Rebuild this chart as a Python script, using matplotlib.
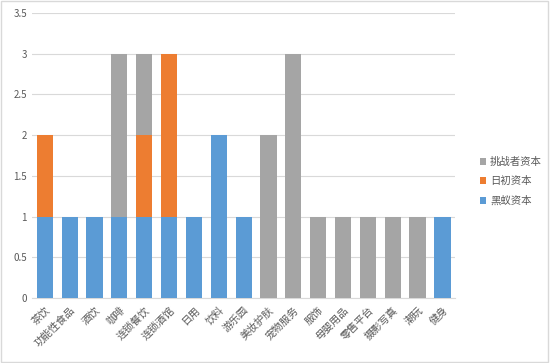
import matplotlib
matplotlib.use('Agg')
import matplotlib.pyplot as plt
from matplotlib.patches import Rectangle

plt.rcParams['font.family'] = ['Noto Sans CJK SC', 'DejaVu Sans']

categories = ['茶饮', '功能性食品', '酒饮', '咖啡', '连锁餐饮', '连锁酒馆', '日用', '饮料', '游乐园',
              '美妆护肤', '宠物服务', '服饰', '母婴用品', '零售平台', '摄影写真', '潮玩', '健身']
heiyi = [1, 1, 1, 1, 1, 1, 1, 2, 1, 0, 0, 0, 0, 0, 0, 0, 1]
richu = [1, 0, 0, 0, 1, 2, 0, 0, 0, 0, 0, 0, 0, 0, 0, 0, 0]
tiaozhan = [0, 0, 0, 2, 1, 0, 0, 0, 0, 2, 3, 1, 1, 1, 1, 1, 0]
yticks = [0, 0.5, 1, 1.5, 2, 2.5, 3, 3.5]
ytick_labels = ['0', '0.5', '1', '1.5', '2', '2.5', '3', '3.5']

blue = '#5B9BD5'
orange = '#ED7D31'
grey = '#A5A5A5'

fig = plt.figure(figsize=(5.5, 3.63), dpi=100)
ax = fig.add_axes([0.058, 0.179, 0.769, 0.785])

x = list(range(len(categories)))
bottom2 = [a + b for a, b in zip(heiyi, richu)]
b1 = ax.bar(x, heiyi, width=0.65, color=blue, label='黑蚁资本', zorder=3)
b2 = ax.bar(x, richu, width=0.65, bottom=heiyi, color=orange, label='日初资本', zorder=3)
b3 = ax.bar(x, tiaozhan, width=0.65, bottom=bottom2, color=grey, label='挑战者资本', zorder=3)

ax.set_xlim(-0.52, 16.5)
ax.set_ylim(0, 3.5)
ax.set_yticks(yticks)
ax.set_yticklabels(ytick_labels, fontsize=7, color='#595959')
ax.yaxis.grid(True, color='#D9D9D9', linewidth=0.8, zorder=0)
ax.tick_params(axis='both', length=0)
ax.tick_params(axis='x', pad=5)
ax.set_xticks(x)
ax.set_xticklabels(categories, rotation=45, ha='right', rotation_mode='anchor',
                   fontsize=7.5, color='#595959')
for s in ['top', 'right', 'left']:
    ax.spines[s].set_visible(False)
ax.spines['bottom'].set_color('#D9D9D9')

leg = fig.legend(handles=[b3, b2, b1], loc='center left', bbox_to_anchor=(0.855, 0.5),
                 frameon=False, fontsize=7.5, handlelength=0.6, handleheight=0.6,
                 handletextpad=0.4, labelspacing=0.9, labelcolor='#595959')

fig.patches.append(Rectangle((0.002, 0.003), 0.995, 0.993, transform=fig.transFigure,
                             fill=False, edgecolor='#D9D9D9', linewidth=1))

fig.savefig('out.png', dpi=100)
